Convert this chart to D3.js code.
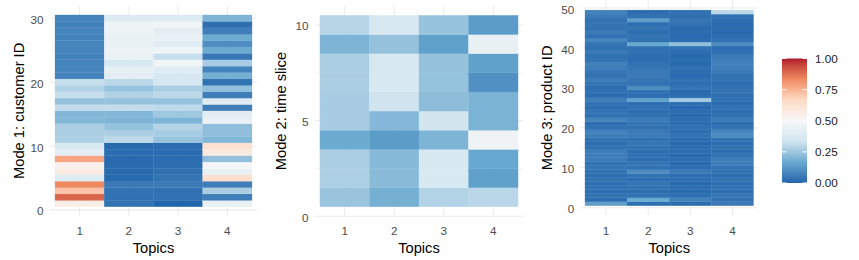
<!DOCTYPE html>
<html lang="en">
<head>
    <meta charset="utf-8">
    <title>Topic heatmaps</title>
    <script src="https://d3js.org/d3.v7.min.js"></script>
    <style>
        html, body {
            margin: 0;
            padding: 0;
            background: #fff;
        }
        text {
            font-family: "Liberation Sans", Arial, sans-serif;
        }
        .tick-label {
            font-size: 11.7px;
            fill: #4d4d4d;
        }
        .axis-title {
            font-size: 14.7px;
            fill: #000;
        }
        .grid-major {
            stroke: #ebebeb;
            stroke-width: 1.07px;
        }
        .grid-minor {
            stroke: #ebebeb;
            stroke-width: 0.53px;
        }
    </style>
</head>
<body>
<script type="text/javascript">

    //Topics on the x axis
    var topics = [1, 2, 3, 4];

    //Mode 1: customer ID 1..30 (row 1 first), one array per topic
    var custT1 = [0.56, 0.895, 0.72, 0.835, 0.386, 0.57, 0.54, 0.78, 0.41, 0.37,
                  0.27, 0.27, 0.27, 0.205, 0.205, 0.307, 0.235, 0.316, 0.282, 0.316,
                  0.072, 0.076, 0.074, 0.07, 0.074, 0.078, 0.072, 0.076, 0.07, 0.074];
    var custT2 = [0.03, 0.03, 0.03, 0.05, 0.01, 0.01, 0.015, 0.01, 0.015, 0.01,
                  0.30, 0.27, 0.236, 0.2, 0.205, 0.31, 0.236, 0.28, 0.24, 0.296,
                  0.41, 0.425, 0.364, 0.44, 0.456, 0.44, 0.44, 0.46, 0.46, 0.38];
    var custT3 = [0.0, 0.03, 0.025, 0.05, 0.04, 0.025, 0.02, 0.015, 0.015, 0.015,
                  0.24, 0.266, 0.285, 0.2, 0.25, 0.30, 0.236, 0.30, 0.27, 0.35,
                  0.364, 0.4, 0.48, 0.316, 0.46, 0.4, 0.44, 0.41, 0.48, 0.38];
    var custT4 = [0.44, 0.06, 0.27, 0.062, 0.64, 0.44, 0.49, 0.23, 0.58, 0.63,
                  0.205, 0.227, 0.227, 0.44, 0.41, 0.062, 0.386, 0.06, 0.228, 0.03,
                  0.187, 0.074, 0.266, 0.045, 0.172, 0.098, 0.172, 0.062, 0.024, 0.2];

    //Mode 2: time slice 1..10
    var timeT1 = [0.244, 0.274, 0.27, 0.172, 0.266, 0.266, 0.27, 0.27, 0.2, 0.29];
    var timeT2 = [0.187, 0.217, 0.214, 0.136, 0.21, 0.33, 0.37, 0.364, 0.235, 0.364];
    var timeT3 = [0.282, 0.37, 0.37, 0.2, 0.34, 0.224, 0.236, 0.235, 0.148, 0.24];
    var timeT4 = [0.294, 0.148, 0.165, 0.465, 0.195, 0.195, 0.107, 0.148, 0.435, 0.136];

    //Mode 3: product ID 1..49
    var prodT1 = [0.14, 0.02, 0.03, 0.02, 0.03, 0.02, 0.03, 0.02, 0.03, 0.04,
                  0.03, 0.05, 0.06, 0.06, 0.03, 0.02, 0.03, 0.06, 0.07, 0.03,
                  0.02, 0.08, 0.03, 0.04, 0.02, 0.03, 0.06, 0.02, 0.03, 0.02,
                  0.04, 0.06, 0.03, 0.04, 0.06, 0.07, 0.04, 0.03, 0.05, 0.03,
                  0.04, 0.08, 0.03, 0.05, 0.03, 0.04, 0.03, 0.05, 0.07];
    var prodT2 = [0.02, 0.17, 0.03, 0.02, 0.03, 0.04, 0.02, 0.03, 0.1, 0.03,
                  0.04, 0.02, 0.03, 0.02, 0.03, 0.04, 0.03, 0.05, 0.05, 0.03,
                  0.04, 0.05, 0.03, 0.02, 0.03, 0.02, 0.15, 0.02, 0.03, 0.1,
                  0.03, 0.04, 0.05, 0.05, 0.04, 0.03, 0.02, 0.02, 0.03, 0.03,
                  0.17, 0.03, 0.04, 0.02, 0.04, 0.02, 0.14, 0.03, 0.02];
    var prodT3 = [0.02, 0.07, 0.02, 0.01, 0.02, 0.01, 0.02, 0.02, 0.05, 0.02,
                  0.01, 0.02, 0.01, 0.02, 0.02, 0.01, 0.02, 0.03, 0.02, 0.03,
                  0.02, 0.02, 0.01, 0.02, 0.01, 0.02, 0.26, 0.02, 0.01, 0.04,
                  0.02, 0.03, 0.01, 0.02, 0.03, 0.01, 0.02, 0.01, 0.02, 0.03,
                  0.23, 0.02, 0.01, 0.02, 0.01, 0.03, 0.04, 0.02, 0.03];
    var prodT4 = [0.05, 0.03, 0.04, 0.02, 0.03, 0.02, 0.03, 0.02, 0.03, 0.03,
                  0.06, 0.06, 0.03, 0.02, 0.03, 0.02, 0.03, 0.09, 0.08, 0.03,
                  0.02, 0.05, 0.03, 0.02, 0.03, 0.02, 0.03, 0.02, 0.04, 0.03,
                  0.02, 0.04, 0.03, 0.05, 0.06, 0.07, 0.06, 0.05, 0.03, 0.02,
                  0.1, 0.03, 0.02, 0.01, 0.02, 0.01, 0.02, 0.03, 0.3];

    //Legend
    var legendTicks = [0, 0.25, 0.5, 0.75, 1];

    //RdBu (7 classes), reversed so that 0 is blue
    var rdbu = ["#2166ac", "#67a9cf", "#d1e5f0", "#f7f7f7", "#fddbc7", "#ef8a62", "#b2182b"];

    var w = 859;
    var h = 260;

    var color = d3.scaleLinear()
        .domain(d3.range(7).map(function(i) { return i / 6; }))
        .range(rdbu)
        .interpolate(d3.interpolateLab)
        .clamp(true);

    var svg = d3.select("body")
        .append("svg")
        .attr("width", w)
        .attr("height", h);

    var panels = [
        { cols: [custT1, custT2, custT3, custT4], x0: 50.1, x1: 256.9, y0: 216.3, y1: 5.4,
          ticks: [0, 10, 20, 30], minor: [5, 15, 25], title: "Mode 1: customer ID", titleX: 24 },
        { cols: [timeT1, timeT2, timeT3, timeT4], x0: 315, x1: 523, y0: 216.3, y1: 5.8,
          ticks: [0, 5, 10], minor: [2.5, 7.5], title: "Mode 2: time slice", titleX: 286 },
        { cols: [prodT1, prodT2, prodT3, prodT4], x0: 580.8, x1: 757.7, y0: 215.5, y1: 0.3,
          ticks: [0, 10, 20, 30, 40, 50], minor: [5, 15, 25, 35, 45], title: "Mode 3: product ID", titleX: 552 }
    ];

    panels.forEach(function(p) {
        var n = p.cols[0].length;
        var pad = 0.05 * n;

        var xScale = d3.scaleLinear()
            .domain([0.4, 4.6])
            .range([p.x0, p.x1]);

        var yScale = d3.scaleLinear()
            .domain([0.5 - pad, n + 0.5 + pad])
            .range([p.y0, p.y1]);

        var g = svg.append("g");

        //grid
        g.selectAll(".gminor")
            .data(p.minor)
            .enter().append("line")
            .attr("class", "grid-minor")
            .attr("x1", p.x0).attr("x2", p.x1)
            .attr("y1", function(d) { return yScale(d); })
            .attr("y2", function(d) { return yScale(d); });

        g.selectAll(".gmajor")
            .data(p.ticks)
            .enter().append("line")
            .attr("class", "grid-major")
            .attr("x1", p.x0).attr("x2", p.x1)
            .attr("y1", function(d) { return yScale(d); })
            .attr("y2", function(d) { return yScale(d); });

        g.selectAll(".gvert")
            .data(topics)
            .enter().append("line")
            .attr("class", "grid-major")
            .attr("x1", function(d) { return xScale(d); })
            .attr("x2", function(d) { return xScale(d); })
            .attr("y1", p.y0).attr("y2", p.y1);

        //tiles
        var cells = [];
        p.cols.forEach(function(col, ti) {
            col.forEach(function(v, ri) {
                cells.push({ topic: topics[ti], row: ri + 1, value: v });
            });
        });

        g.selectAll(".tile")
            .data(cells)
            .enter().append("rect")
            .attr("x", function(d) { return xScale(d.topic - 0.5); })
            .attr("width", function(d) { return xScale(d.topic + 0.5) - xScale(d.topic - 0.5); })
            .attr("y", function(d) { return yScale(d.row + 0.5); })
            .attr("height", function(d) { return yScale(d.row - 0.5) - yScale(d.row + 0.5); })
            .attr("fill", function(d) { return color(d.value); })
            .attr("stroke", function(d) { return color(d.value); })
            .attr("stroke-width", 0.3);

        //axis labels
        g.selectAll(".ylab")
            .data(p.ticks)
            .enter().append("text")
            .attr("class", "tick-label")
            .attr("text-anchor", "end")
            .attr("x", p.x0 - 6.6)
            .attr("y", function(d) { return yScale(d) + 5.5; })
            .text(function(d) { return d; });

        g.selectAll(".xlab")
            .data(topics)
            .enter().append("text")
            .attr("class", "tick-label")
            .attr("text-anchor", "middle")
            .attr("x", function(d) { return xScale(d); })
            .attr("y", 235)
            .text(function(d) { return d; });

        g.append("text")
            .attr("class", "axis-title")
            .attr("text-anchor", "middle")
            .attr("x", (p.x0 + p.x1) / 2)
            .attr("y", 253)
            .text("Topics");

        g.append("text")
            .attr("class", "axis-title")
            .attr("text-anchor", "middle")
            .attr("transform", "translate(" + p.titleX + "," + ((p.y0 + p.y1) / 2) + ") rotate(-90)")
            .text(p.title);
    });

    //colour bar legend
    var barX = 782, barW = 25;
    var legScale = d3.scaleLinear().domain([0, 1]).range([183, 58.5]);

    var grad = svg.append("defs").append("linearGradient")
        .attr("id", "bar")
        .attr("x1", 0).attr("y1", 1).attr("x2", 0).attr("y2", 0);

    grad.selectAll("stop")
        .data(d3.range(0, 1.0001, 0.02))
        .enter().append("stop")
        .attr("offset", function(d) { return d; })
        .attr("stop-color", function(d) { return color(d); });

    svg.append("rect")
        .attr("x", barX)
        .attr("y", legScale(1))
        .attr("width", barW)
        .attr("height", legScale(0) - legScale(1))
        .attr("fill", "url(#bar)");

    var lt = svg.append("g");
    legendTicks.forEach(function(t) {
        var y = legScale(t);
        lt.append("line")
            .attr("x1", barX).attr("x2", barX + 4.5)
            .attr("y1", y).attr("y2", y)
            .attr("stroke", "#fff").attr("stroke-width", 1);
        lt.append("line")
            .attr("x1", barX + barW - 4.5).attr("x2", barX + barW)
            .attr("y1", y).attr("y2", y)
            .attr("stroke", "#fff").attr("stroke-width", 1);
        lt.append("text")
            .attr("class", "tick-label")
            .style("fill", "#1a1a1a")
            .attr("x", barX + barW + 8)
            .attr("y", y + 4.2)
            .text(d3.format(".2f")(t));
    });

</script>
</body>
</html>
